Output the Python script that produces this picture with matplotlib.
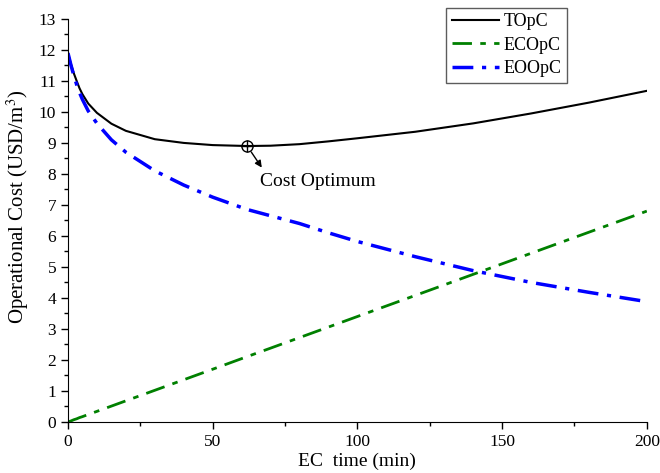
import matplotlib.pyplot as plt
from matplotlib.ticker import MultipleLocator

# EC time (min)
t = [0, 1, 2, 3, 4, 5, 7, 10, 15, 20, 30, 40, 50, 62, 70, 80, 90, 100, 120, 140, 160, 180, 200]

topc = [11.9, 11.55, 11.25, 11.0, 10.76, 10.57, 10.27, 9.97, 9.62, 9.39, 9.12, 9.0, 8.93, 8.9, 8.91,
        8.96, 9.05, 9.15, 9.36, 9.63, 9.95, 10.3, 10.68]
ecopc = [0, 0.03, 0.07, 0.1, 0.14, 0.17, 0.24, 0.34, 0.51, 0.68, 1.02, 1.36, 1.7, 2.11, 2.38,
         2.72, 3.06, 3.4, 4.08, 4.76, 5.44, 6.12, 6.8]
eoopc = [11.9, 11.52, 11.18, 10.88, 10.62, 10.4, 10.03, 9.63, 9.1, 8.7, 8.1, 7.64, 7.25, 6.85, 6.65,
         6.4, 6.1, 5.82, 5.33, 4.88, 4.5, 4.18, 3.88]

opt_t = 62
opt_cost = 8.9

plt.rcParams['font.family'] = ['Liberation Serif', 'DejaVu Serif']
plt.rcParams['mathtext.fontset'] = 'stix'

fig = plt.figure(figsize=(6.6, 4.73), dpi=100)
ax = fig.add_axes([0.103, 0.108, 0.877, 0.852])

ax.plot(t, topc, color='black', lw=1.5, label='TOpC')
ax.plot(t, ecopc, color='green', lw=2, dashes=(7, 3, 2, 3), label='ECOpC')
ax.plot(t, eoopc, color='blue', lw=2.5, dashes=(6, 2.5, 1.2, 2.5), label='EOOpC')

# cost optimum marker
ax.plot(opt_t, opt_cost, 'o', ms=8, mfc='none', mec='black', mew=1)
ax.plot(opt_t, opt_cost, '+', ms=8, mec='black', mew=1)
ax.annotate('', xy=(67.5, 8.13), xytext=(opt_t + 0.8, opt_cost - 0.12),
            arrowprops=dict(arrowstyle='-|>', color='black', lw=1, mutation_scale=10))
ax.text(66.5, 7.74, 'Cost Optimum', fontsize=14, va='center', ha='left')

ax.set_xlim(0, 200)
ax.set_ylim(0, 13)
ax.xaxis.set_major_locator(MultipleLocator(50))
ax.xaxis.set_minor_locator(MultipleLocator(25))
ax.yaxis.set_major_locator(MultipleLocator(1))
ax.yaxis.set_minor_locator(MultipleLocator(0.5))
ax.tick_params(which='major', direction='out', length=5, width=1, labelsize=12.5)
ax.tick_params(which='minor', direction='out', length=3, width=1)
ax.spines['top'].set_visible(False)
ax.spines['right'].set_visible(False)

ax.set_xlabel('EC  time (min)', fontsize=14, labelpad=2)
ax.set_ylabel('Operational Cost (USD/m$^3$)', fontsize=15)
ax.yaxis.set_label_coords(-0.064, 0.535)

leg = ax.legend(loc='upper left', bbox_to_anchor=(0.676, 0.983), bbox_transform=fig.transFigure,
                fontsize=13, frameon=True, fancybox=False, handlelength=2.6,
                borderpad=0.3, labelspacing=0.35, handletextpad=0.3, borderaxespad=0)
leg.get_frame().set_edgecolor('#333333')
leg.get_frame().set_linewidth(1)

fig.savefig('out.png', dpi=100)
